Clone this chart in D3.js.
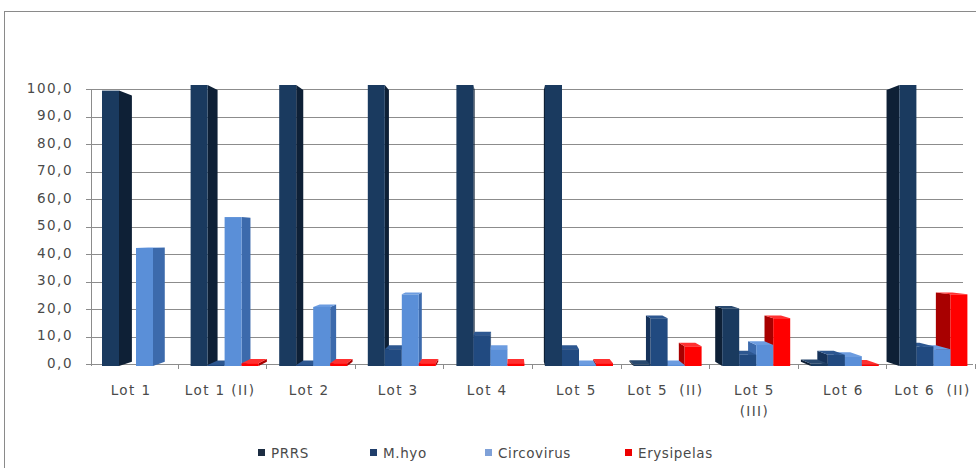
<!DOCTYPE html>
<html>
<head>
<meta charset="utf-8">
<script src="https://cdn.jsdelivr.net/npm/d3@7/dist/d3.min.js"></script>
<style>
  html, body { margin: 0; padding: 0; background: #fff; }
  svg { display: block; font-family: "DejaVu Sans", sans-serif; }
</style>
</head>
<body>
<svg id="chart" width="976" height="468"></svg>
<script>
// data
const categories = ['Lot 1', 'Lot 1 (II)', 'Lot 2', 'Lot 3', 'Lot 4', 'Lot 5', 'Lot 5  (II)', 'Lot 5 (III)', 'Lot 6', 'Lot 6  (II)'];
const seriesNames = ['PRRS', 'M.hyo', 'Circovirus', 'Erysipelas'];
const prrs       = [98, 100, 100, 100, 100, 100, 0.5, 20.5, 0.8, 100];
const mhyo       = [0, 0.4, 0.4, 6, 11, 6, 17, 4, 4, 7];
const circovirus = [42, 53, 21, 25.5, 6, 0.4, 0.4, 7.5, 3.5, 6];
const erysipelas = [0, 1, 1, 1, 1, 1, 7, 17, 0.6, 25.5];
const yTicks = [0, 10, 20, 30, 40, 50, 60, 70, 80, 90, 100];

const seriesValues = [prrs, mhyo, circovirus, erysipelas];
// front / side / top colours per series
const colors = [
  { front: '#1a3a5f', side: '#0e2036', top: '#28486e', legend: '#1c2d42' },
  { front: '#214a80', side: '#15325a', top: '#2d5790', legend: '#203e6b' },
  { front: '#5a8fd8', side: '#3c6aac', top: '#6c9ce0', legend: '#7fa1d8' },
  { front: '#ff0000', side: '#a80000', top: '#ff3030', legend: '#ee0000' }
];

const svg = d3.select('#chart');

// outer chart frame (runs off the right / bottom edge like the picture)
svg.append('rect')
  .attr('x', 4.5).attr('y', 11.5)
  .attr('width', 1000).attr('height', 500)
  .attr('fill', 'none').attr('stroke', '#8a8a8a');

const x = d3.scaleBand().domain(categories).range([90, 976]);
const xLab = d3.scaleBand().domain(categories).range([86.5, 977]);
const xs = d3.scaleBand().domain(seriesNames).range([12, 80]);
const yBack = d3.scaleLinear().domain([0, 100]).range([364, 89]);
const yFront = d3.scaleLinear().domain([0, 100]).range([366, 85]);

// fake perspective: faces recede toward this point
const vp = [510, 235];
const depth = 0.033;
const persp = (px, py) => [px + (vp[0] - px) * depth, py + (vp[1] - py) * depth];

// back wall gridlines
svg.append('g').selectAll('line')
  .data(yTicks)
  .join('line')
  .attr('x1', 91).attr('x2', 963)
  .attr('y1', d => Math.round(yBack(d)) + 0.5)
  .attr('y2', d => Math.round(yBack(d)) + 0.5)
  .attr('stroke', '#8c8c8c');

// value axis
const fmt = d3.format('.1f');
const yAxis = svg.append('g');
yAxis.append('line')
  .attr('x1', 91.5).attr('x2', 91.5)
  .attr('y1', yBack(100)).attr('y2', yBack(0) + 2)
  .attr('stroke', '#8c8c8c');
yAxis.selectAll('line.tk')
  .data(yTicks)
  .join('line')
  .attr('class', 'tk')
  .attr('x1', 86).attr('x2', 91)
  .attr('y1', d => Math.round(yBack(d)) + 0.5)
  .attr('y2', d => Math.round(yBack(d)) + 0.5)
  .attr('stroke', '#8c8c8c');
yAxis.selectAll('text')
  .data(yTicks)
  .join('text')
  .attr('x', 73)
  .attr('y', d => yBack(d) - 1)
  .attr('dy', '0.35em')
  .attr('text-anchor', 'end')
  .attr('font-size', 13.5)
  .attr('letter-spacing', 1.5)
  .attr('fill', '#4a4a4a')
  .text(d => fmt(d).replace('.', ','));

// category axis
const xAxis = svg.append('g');
xAxis.append('line')
  .attr('x1', 91).attr('x2', 973)
  .attr('y1', 364.5).attr('y2', 364.5)
  .attr('stroke', '#8c8c8c');
xAxis.selectAll('line.tk')
  .data(categories)
  .join('line')
  .attr('class', 'tk')
  .attr('x1', d => Math.round(x(d) + x.bandwidth()) - 0.5)
  .attr('x2', d => Math.round(x(d) + x.bandwidth()) - 0.5)
  .attr('y1', 364).attr('y2', 369)
  .attr('stroke', '#8c8c8c');
const labX = d => xLab(d) + xLab.bandwidth() / 2;
const xLabels = xAxis.selectAll('text')
  .data(categories)
  .join('text')
  .attr('x', labX)
  .attr('y', 395)
  .attr('text-anchor', 'middle')
  .attr('font-size', 13.5)
  .attr('letter-spacing', 1.4)
  .attr('fill', '#4a4a4a')
  .attr('xml:space', 'preserve');
xLabels.each(function (d) {
  const t = d3.select(this);
  if (d === 'Lot 5 (III)') {
    t.append('tspan').attr('x', labX(d)).text('Lot 5');
    t.append('tspan').attr('x', labX(d)).attr('dy', 21).text('(III)');
  } else {
    t.text(d);
  }
});

// bars
const bars = [];
categories.forEach((c, i) => {
  seriesNames.forEach((s, j) => {
    const v = seriesValues[j][i];
    if (!(v > 0)) return;
    const x0 = x(c) + xs(s);
    const x1 = x0 + xs.bandwidth();
    bars.push({ x0, x1, yt: yFront(v), yb: yFront(0), col: colors[j], j });
  });
});
bars.sort((a, b) => Math.abs((b.x0 + b.x1) / 2 - vp[0]) - Math.abs((a.x0 + a.x1) / 2 - vp[0]));

const barG = svg.append('g');
const poly = pts => pts.map(p => p.join(',')).join(' ');
bars.forEach(b => {
  const g = barG.append('g');
  if (b.x1 < vp[0]) {
    g.append('polygon')
      .attr('points', poly([[b.x1, b.yt], persp(b.x1, b.yt), persp(b.x1, b.yb), [b.x1, b.yb]]))
      .attr('fill', b.col.side);
  } else if (b.x0 > vp[0]) {
    g.append('polygon')
      .attr('points', poly([[b.x0, b.yt], persp(b.x0, b.yt), persp(b.x0, b.yb), [b.x0, b.yb]]))
      .attr('fill', b.col.side);
  }
  if (b.yt > vp[1]) {
    g.append('polygon')
      .attr('points', poly([[b.x0, b.yt], [b.x1, b.yt], persp(b.x1, b.yt), persp(b.x0, b.yt)]))
      .attr('fill', b.col.top);
  }
  g.append('rect')
    .attr('x', b.x0).attr('y', b.yt)
    .attr('width', b.x1 - b.x0).attr('height', b.yb - b.yt)
    .attr('fill', b.col.front);
});

// legend
const legendX = [258, 370, 485, 625];
const legend = svg.append('g').selectAll('g')
  .data(seriesNames)
  .join('g')
  .attr('transform', (d, i) => `translate(${legendX[i]},453)`);
legend.append('rect')
  .attr('x', 0).attr('y', -4)
  .attr('width', 7).attr('height', 7)
  .attr('fill', (d, i) => colors[i].legend);
legend.append('text')
  .attr('x', 13).attr('dy', '0.35em')
  .attr('font-size', 13.5)
  .attr('letter-spacing', 0.6)
  .attr('fill', '#4a4a4a')
  .text(d => d);
</script>
</body>
</html>
